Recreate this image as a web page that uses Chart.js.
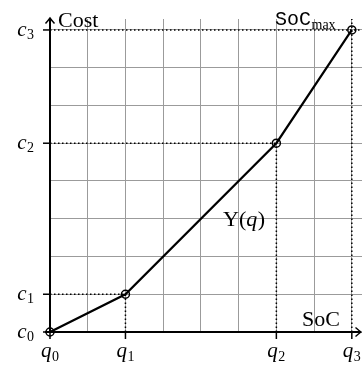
<!DOCTYPE html>
<html>
<head>
<meta charset="utf-8">
<script src="https://cdn.jsdelivr.net/npm/chart.js@4.4.1/dist/chart.umd.min.js"></script>
<style>
  html, body { margin: 0; padding: 0; background: #fff; }
  #wrap { width: 362px; height: 365px; }
</style>
</head>
<body>
<div id="wrap"><canvas id="chart" width="362" height="365"></canvas></div>
<script>
// Breakpoints of the piecewise-linear cost curve Υ(q)
const socLevels  = [0, 2, 6, 8];      // q0 .. q3
const costLevels = [0, 1, 5, 8];      // c0 .. c3
const socSubs    = ['0', '1', '2', '3'];
const costSubs   = ['0', '1', '2', '3'];

// Axis extents (grid runs a little beyond the last breakpoint)
const xMax = 8.27;
const yMax = 8.29;

const SERIF = '"Liberation Serif", "DejaVu Serif", serif';
const MONO  = '"Liberation Mono", "DejaVu Sans Mono", monospace';

function drawSubscripted(ctx, base, sub, x, baseY, subY, align, baseFont, subFont) {
  ctx.font = baseFont;
  const wb = ctx.measureText(base).width;
  ctx.font = subFont;
  const ws = ctx.measureText(sub).width;
  const total = wb + ws + 0.5;
  let x0 = x;
  if (align === 'right') x0 = x - total;
  else if (align === 'center') x0 = x - total / 2;
  ctx.textAlign = 'left';
  ctx.textBaseline = 'alphabetic';
  ctx.font = baseFont;
  ctx.fillText(base, x0, baseY);
  ctx.font = subFont;
  ctx.fillText(sub, x0 + wb + 0.5, subY);
}

function arrowHead(ctx, tipX, tipY, dir) {
  ctx.save();
  ctx.lineWidth = 1.4;
  ctx.strokeStyle = '#000';
  ctx.setLineDash([]);
  ctx.beginPath();
  if (dir === 'up') {
    ctx.moveTo(tipX - 4.5, tipY + 5.5);
    ctx.quadraticCurveTo(tipX - 1.2, tipY + 1.8, tipX, tipY);
    ctx.quadraticCurveTo(tipX + 1.2, tipY + 1.8, tipX + 4.5, tipY + 5.5);
  } else {
    ctx.moveTo(tipX - 5.5, tipY - 4.5);
    ctx.quadraticCurveTo(tipX - 1.8, tipY - 1.2, tipX, tipY);
    ctx.quadraticCurveTo(tipX - 1.8, tipY + 1.2, tipX - 5.5, tipY + 4.5);
  }
  ctx.stroke();
  ctx.restore();
}

const guidesPlugin = {
  id: 'guides',
  beforeDatasetsDraw(chart) {
    const ctx = chart.ctx;
    const xs = chart.scales.x, ys = chart.scales.y;
    const area = chart.chartArea;
    const x0 = xs.getPixelForValue(0), y0 = ys.getPixelForValue(0);
    const last = socLevels.length - 1;
    ctx.save();
    ctx.strokeStyle = '#000';
    // dotted guides from the axes to each breakpoint
    ctx.lineWidth = 1.5;
    ctx.setLineDash([1.5, 2.5]);
    for (let i = 1; i < socLevels.length; i++) {
      const px = xs.getPixelForValue(socLevels[i]);
      const py = ys.getPixelForValue(costLevels[i]);
      const xEnd = i === last ? area.right : px;
      const yTop = i === last ? area.top : py;
      ctx.beginPath();
      ctx.moveTo(x0, py); ctx.lineTo(xEnd, py);
      ctx.stroke();
      ctx.beginPath();
      ctx.moveTo(px, y0); ctx.lineTo(px, yTop);
      ctx.stroke();
    }
    ctx.setLineDash([]);
    // tick marks
    ctx.lineWidth = 1.5;
    for (let i = 0; i < socLevels.length; i++) {
      const px = xs.getPixelForValue(socLevels[i]);
      ctx.beginPath(); ctx.moveTo(px, y0); ctx.lineTo(px, y0 + 7); ctx.stroke();
      const py = ys.getPixelForValue(costLevels[i]);
      ctx.beginPath(); ctx.moveTo(x0 - 7, py); ctx.lineTo(x0, py); ctx.stroke();
    }
    // axes
    ctx.lineWidth = 2;
    ctx.beginPath(); ctx.moveTo(x0, y0 + 1); ctx.lineTo(x0, area.top); ctx.stroke();
    ctx.beginPath(); ctx.moveTo(x0 - 5, y0); ctx.lineTo(area.right - 1, y0); ctx.stroke();
    ctx.restore();
    arrowHead(ctx, x0, area.top - 1, 'up');
    arrowHead(ctx, area.right - 1, y0, 'right');
  },
  afterDraw(chart) {
    const ctx = chart.ctx;
    const xs = chart.scales.x, ys = chart.scales.y;
    const y0 = ys.getPixelForValue(0);
    const baseIt = 'italic 21px ' + SERIF;
    const subRm = '14px ' + SERIF;
    ctx.save();
    ctx.fillStyle = '#000';
    // cost tick labels
    for (let i = 0; i < costLevels.length; i++) {
      const py = ys.getPixelForValue(costLevels[i]);
      drawSubscripted(ctx, 'c', costSubs[i], 34, py + 6, py + 9, 'right', baseIt, subRm);
    }
    // state-of-charge tick labels
    for (let i = 0; i < socLevels.length; i++) {
      const px = xs.getPixelForValue(socLevels[i]);
      drawSubscripted(ctx, 'q', socSubs[i], px, y0 + 25, y0 + 29, 'center', baseIt, subRm);
    }
    // axis names
    ctx.textAlign = 'left';
    ctx.textBaseline = 'alphabetic';
    ctx.font = '22px ' + SERIF;
    ctx.fillText('Cost', 58, 27);
    ctx.fillText('SoC', 302, 326);
    // upper bound of the state of charge
    ctx.font = '20px ' + MONO;
    ctx.fillText('SoC', 275, 25);
    const wSoc = ctx.measureText('SoC').width;
    ctx.font = '14px ' + SERIF;
    ctx.fillText('max', 275 + wSoc + 0.5, 29);
    // curve label Υ(q)
    let x = 223;
    const yb = 226;
    ctx.font = '22px ' + SERIF;
    ctx.fillText('Υ(', x, yb);
    x += ctx.measureText('Υ(').width;
    ctx.font = 'italic 22px ' + SERIF;
    ctx.fillText('q', x, yb);
    x += ctx.measureText('q').width + 0.5;
    ctx.font = '22px ' + SERIF;
    ctx.fillText(')', x, yb);
    ctx.restore();
  }
};

const points = socLevels.map((q, i) => ({ x: q, y: costLevels[i] }));

new Chart(document.getElementById('chart'), {
  type: 'line',
  data: {
    datasets: [{
      data: points,
      borderColor: '#000',
      borderWidth: 2.2,
      pointRadius: 4,
      pointBorderWidth: 1.5,
      pointBorderColor: '#000',
      pointBackgroundColor: 'rgba(0,0,0,0)',
      pointStyle: 'circle',
      tension: 0,
      clip: false
    }]
  },
  options: {
    responsive: false,
    animation: false,
    devicePixelRatio: 1,
    layout: { autoPadding: false, padding: { left: 50, right: 0, top: 19, bottom: 33 } },
    plugins: { legend: { display: false }, tooltip: { enabled: false } },
    events: [],
    scales: {
      x: {
        type: 'linear', min: 0, max: xMax,
        ticks: { display: false, stepSize: 1, includeBounds: false },
        grid: { color: '#9b9b9b', lineWidth: 1, drawTicks: false },
        border: { display: false }
      },
      y: {
        type: 'linear', min: 0, max: yMax,
        ticks: { display: false, stepSize: 1, includeBounds: false },
        grid: { color: '#9b9b9b', lineWidth: 1, drawTicks: false },
        border: { display: false }
      }
    }
  },
  plugins: [guidesPlugin]
});
</script>
</body>
</html>
